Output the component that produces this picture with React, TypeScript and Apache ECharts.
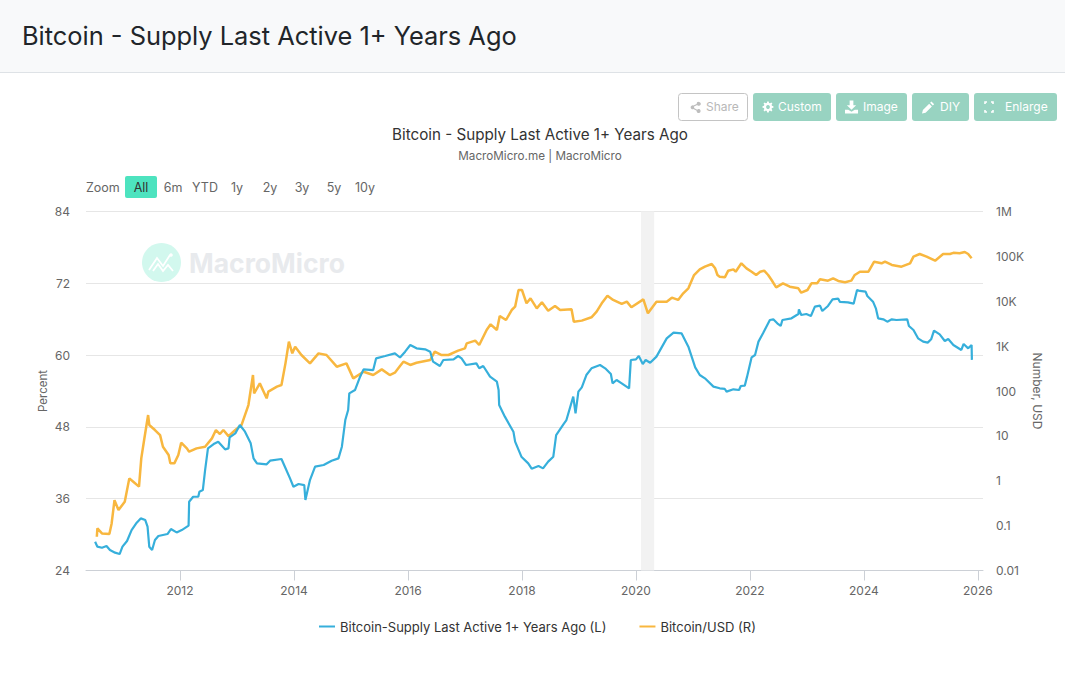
import React, { useEffect, useRef } from "react";
import * as echarts from "echarts";

const FONT = "Inter, 'Noto Sans', sans-serif";
const pageTitle = "Bitcoin - Supply Last Active 1+ Years Ago";
const subTitle = "MacroMicro.me | MacroMicro";
const supplyName = "Bitcoin-Supply Last Active 1+ Years Ago (L)";
const priceName = "Bitcoin/USD (R)";
const yearTicks = [2012, 2014, 2016, 2018, 2020, 2022, 2024, 2026];
const recession = [2020.09, 2020.32];
const zoomLabels = ["6m", "YTD", "1y", "2y", "3y", "5y", "10y"];

const supplyYears = [2010.51,2010.55,2010.63,2010.71,2010.77,2010.86,2010.94,2010.99,2011.07,2011.15,2011.24,2011.31,2011.39,2011.43,2011.46,2011.51,2011.56,2011.62,2011.78,2011.84,2011.94,2012.03,2012.15,2012.16,2012.23,2012.32,2012.34,2012.4,2012.44,2012.49,2012.59,2012.67,2012.79,2012.85,2012.87,2012.97,2013.05,2013.14,2013.24,2013.29,2013.35,2013.52,2013.58,2013.78,2013.84,2013.93,2013.99,2014.08,2014.18,2014.2,2014.28,2014.37,2014.52,2014.66,2014.78,2014.84,2014.9,2014.95,2014.97,2015.07,2015.16,2015.22,2015.39,2015.44,2015.6,2015.77,2015.86,2015.95,2016.04,2016.15,2016.3,2016.39,2016.44,2016.56,2016.62,2016.8,2016.88,2016.94,2017.02,2017.2,2017.25,2017.32,2017.44,2017.56,2017.59,2017.6,2017.7,2017.85,2017.88,2017.99,2018.11,2018.17,2018.29,2018.37,2018.46,2018.55,2018.6,2018.73,2018.78,2018.9,2018.94,2018.99,2019.05,2019.13,2019.22,2019.37,2019.46,2019.56,2019.59,2019.66,2019.75,2019.88,2019.91,2020,2020.05,2020.12,2020.17,2020.25,2020.36,2020.54,2020.66,2020.8,2020.92,2021.04,2021.12,2021.21,2021.36,2021.47,2021.56,2021.59,2021.71,2021.81,2021.84,2021.91,2021.95,2022.03,2022.09,2022.15,2022.23,2022.35,2022.41,2022.48,2022.54,2022.57,2022.73,2022.85,2022.86,2022.9,2022.99,2023.07,2023.14,2023.23,2023.27,2023.37,2023.45,2023.55,2023.58,2023.72,2023.82,2023.88,2023.93,2024.03,2024.06,2024.16,2024.21,2024.25,2024.34,2024.41,2024.49,2024.57,2024.76,2024.79,2024.87,2024.95,2025.04,2025.12,2025.18,2025.23,2025.33,2025.42,2025.48,2025.57,2025.71,2025.75,2025.83,2025.89,2025.895];
const supplyValues = [28.81,27.98,27.81,28.09,27.42,26.98,26.75,27.98,28.93,30.76,31.99,32.71,32.43,31.32,27.98,27.42,29.09,29.76,30.1,30.93,30.37,30.76,31.49,35.5,36.33,36.33,37.17,37.45,40.79,44.41,45.14,45.53,44.25,44.41,46.25,46.92,48.31,47.2,45.25,42.74,41.9,41.74,42.35,42.63,41.35,39.4,38,38.45,38.28,35.78,39.12,41.35,41.63,42.35,42.74,44.69,49.15,50.82,53.6,54.16,56.39,57.62,57.5,59.45,59.84,60.29,59.6,60.57,61.69,61.13,60.96,60.57,58.9,58.18,59.18,59.29,59.85,59.46,58.34,58.62,57.79,58.18,56.39,55.56,54.17,51.66,49.71,47.2,45.53,43.02,41.91,41.02,41.46,41.07,42.19,43.02,46.64,48.48,49.15,53.05,50.27,53.89,54.61,56.67,57.79,58.34,57.79,56.84,55.28,55.84,55.28,54.44,59.18,59.29,59.85,58.51,59.18,58.73,59.74,62.8,63.75,63.64,61.41,57.95,56.68,56.12,54.73,54.45,54.34,53.89,54.28,54.17,54.84,54.9,56.4,59.63,60.02,62.25,63.64,65.87,65.98,65.31,64.87,65.87,66.15,66.87,67.65,66.7,66.87,66.54,68.1,68.27,67.37,68.21,69.32,69.43,68.88,68.82,68.6,70.88,70.72,70.6,69.88,68.93,67.82,66.15,65.98,65.59,65.98,65.87,65.98,64.87,64.2,62.8,62.25,62.08,62.64,64.09,63.47,62.36,62.69,61.69,60.86,61.86,61.13,61.69,59.2];

const priceYears = [2010.54,2010.55,2010.63,2010.76,2010.8,2010.85,2010.92,2011.03,2011.11,2011.18,2011.28,2011.32,2011.37,2011.44,2011.46,2011.56,2011.65,2011.7,2011.8,2011.83,2011.9,2011.97,2012.02,2012.12,2012.16,2012.29,2012.44,2012.56,2012.63,2012.7,2012.76,2012.85,2012.97,2013.08,2013.2,2013.28,2013.3,2013.4,2013.52,2013.55,2013.7,2013.78,2013.85,2013.91,2013.97,2014.02,2014.13,2014.28,2014.43,2014.57,2014.75,2014.92,2015.04,2015.22,2015.39,2015.54,2015.68,2015.77,2015.86,2015.92,2016.04,2016.15,2016.39,2016.47,2016.59,2016.71,2016.88,2017,2017.03,2017.18,2017.25,2017.38,2017.45,2017.56,2017.61,2017.72,2017.82,2017.88,2017.94,2018,2018.08,2018.15,2018.26,2018.35,2018.46,2018.58,2018.67,2018.87,2018.91,2019.05,2019.22,2019.31,2019.4,2019.5,2019.6,2019.75,2019.84,2019.92,2020.13,2020.21,2020.36,2020.54,2020.63,2020.74,2020.83,2020.92,2021.02,2021.12,2021.21,2021.33,2021.39,2021.43,2021.47,2021.56,2021.62,2021.71,2021.75,2021.85,2021.94,2022.03,2022.11,2022.18,2022.25,2022.32,2022.38,2022.46,2022.58,2022.7,2022.85,2022.9,2023.01,2023.08,2023.18,2023.23,2023.37,2023.46,2023.55,2023.67,2023.78,2023.84,2023.93,2024.08,2024.18,2024.31,2024.37,2024.49,2024.66,2024.81,2024.87,2024.98,2025.1,2025.25,2025.39,2025.51,2025.57,2025.68,2025.77,2025.83,2025.89];
const priceValues = [0.0566,0.087,0.067,0.065,0.112,0.37,0.222,0.34,1.13,0.95,0.74,3.15,8.07,29.1,17.5,13.5,10.4,5.74,3.74,2.44,2.44,3.74,7.05,5.26,4.44,5.26,5.74,8.8,13.5,11,13.5,9.9,13.5,17.5,48.6,227,88,148,68.6,97,125,136,413,1256,690,973,634,413,690,634,348,413,191,269,227,303,227,256,360,450,380,427,491,753,634,634,792,893,1153,1324,1059,2290,3060,2290,4700,3820,6380,7580,17800,17800,9000,11600,6950,9500,6170,7830,6380,6600,3510,3700,4390,5860,9000,13300,10700,8690,9800,7330,11000,5380,9800,9800,12000,10700,15000,19400,38400,51400,59000,67600,54100,38500,35300,34100,48000,51400,45600,70000,54100,45600,38500,45600,48000,38500,29700,20400,25100,21100,19400,15500,17800,25100,25100,30800,28700,32400,28300,26400,28800,38500,45600,45600,76200,70000,76200,64300,59000,70000,98600,113000,98600,80200,113000,113000,120000,117000,125000,113000,90400];

const toPairs = (xs: number[], ys: number[]) => xs.map((x, i) => [x, ys[i]]);
const priceLabel = (v: number) => {
  const n = parseFloat(v.toPrecision(3));
  if (n >= 1e6) return n / 1e6 + "M";
  if (n >= 1e3) return n / 1e3 + "K";
  return String(n);
};

const ICONS: Record<string, string> = {
  mmShare: "M11 1a2.2 2.2 0 1 1-1.9 3.4L5.6 6.2a2.2 2.2 0 0 1 0 1.6l3.5 1.8a2.2 2.2 0 1 1-.6 1.2L4.9 9a2.2 2.2 0 1 1 0-4l3.6-1.8A2.2 2.2 0 0 1 11 1z",
  mmGear: "M6 0h2l.4 1.9 1.3.5L11.3 1.300l1.4 1.4-1.100 1.600.5 1.300L14 6v2l-1.900.4-.5 1.300 1.100 1.600-1.400 1.400-1.600-1.100-1.300.5L8 14H6l-.4-1.900-1.300-.5-1.600 1.100-1.400-1.400 1.100-1.600-.5-1.300L0 8V6l1.900-.4.5-1.300-1.100-1.600 1.400-1.400 1.600 1.100 1.300-.5z",
  mmDownload: "M5 0h4v5h3L7 10 2 5h3zM0 10h3.500L7 12l3.500-2H14v4H0z",
  mmPencil: "M10.500 0.500l3 3-1.500 1.500-3-3zM8 3l3 3-7 7-4 1 1-4z",
};
Object.entries(ICONS).forEach(([name, d]) => {
  echarts.graphic.registerShape(name, echarts.graphic.extendPath(d as any, {}) as any);
});

const BTN = "#98d3c1";
const buttons = [
  { label: "Custom", x: 753, w: 78, tx: 778 },
  { label: "Image", x: 836, w: 71, tx: 863 },
  { label: "DIY", x: 912, w: 57, tx: 940 },
  { label: "Enlarge", x: 974, w: 83, tx: 1005 },
];

function chromeGraphics(): any[] {
  const els: any[] = [
    { type: "rect", shape: { x: 0, y: 0, width: 1065, height: 72 }, style: { fill: "#f8f9fa" }, silent: true },
    { type: "line", shape: { x1: 0, y1: 72.5, x2: 1065, y2: 72.5 }, style: { stroke: "#dee2e6", lineWidth: 1 } },
    { type: "text", x: 22, y: 35, style: { text: pageTitle, font: `400 25.4px ${FONT}`, fill: "#212529", textAlign: "left", textVerticalAlign: "middle" } },
    { type: "rect", shape: { x: 678.5, y: 93.5, width: 69, height: 27, r: 3 }, style: { fill: "#fff", stroke: "#c4c4c4", lineWidth: 1 } },
    { type: "mmShare", x: 689, y: 101, scaleX: 0.9, scaleY: 0.9, style: { fill: "#bdbdbd" } },
    { type: "text", x: 706, y: 106.5, style: { text: "Share", font: `400 12px ${FONT}`, fill: "#b8b8b8", textVerticalAlign: "middle" } },
  ];
  buttons.forEach((b) => {
    els.push({ type: "rect", shape: { x: b.x, y: 93, width: b.w, height: 28, r: 3 }, style: { fill: BTN } });
    els.push({ type: "text", x: b.tx, y: 106.5, style: { text: b.label, font: `400 12px ${FONT}`, fill: "#fff", textVerticalAlign: "middle" } });
  });
  els.push({ type: "mmGear", x: 762.500, y: 101.500, scaleX: 0.78, scaleY: 0.78, style: { fill: "#fff" } });
  els.push({ type: "circle", shape: { cx: 768, cy: 107, r: 1.9 }, style: { fill: BTN } });
  els.push({ type: "mmDownload", x: 845, y: 100.500, scaleX: 0.93, scaleY: 0.93, style: { fill: "#fff" } });
  els.push({ type: "mmPencil", x: 922, y: 101, scaleX: 0.9, scaleY: 0.9, style: { fill: "#fff" } });
  const cs = { stroke: "#fff", lineWidth: 1.6, fill: "none" };
  [[[985, 104], [985, 102], [987, 102]], [[991, 102], [993, 102], [993, 104]], [[985, 110], [985, 112], [987, 112]], [[991, 112], [993, 112], [993, 110]]].forEach((pts) => {
    els.push({ type: "polyline", shape: { points: pts }, style: cs });
  });
  // range selector
  els.push({ type: "text", x: 86, y: 187.500, style: { text: "Zoom", font: `400 12.5px ${FONT}`, fill: "#666", textVerticalAlign: "middle" } });
  els.push({ type: "rect", shape: { x: 125, y: 176, width: 32, height: 22, r: 2 }, style: { fill: "#4de3bf" } });
  els.push({ type: "text", x: 141, y: 187.500, style: { text: "All", font: `400 12.5px ${FONT}`, fill: "#333", textAlign: "center", textVerticalAlign: "middle" } });
  const cx = [173, 205, 237, 270, 302, 334, 365];
  zoomLabels.forEach((t, i) => {
    els.push({ type: "text", x: cx[i], y: 187.500, style: { text: t, font: `400 12.5px ${FONT}`, fill: "#666", textAlign: "center", textVerticalAlign: "middle" } });
  });
  // watermark
  els.push({ type: "circle", shape: { cx: 161.500, cy: 262.500, r: 19.500 }, style: { fill: "#d2f8ee" } });
  els.push({ type: "polyline", shape: { points: [[149, 270], [157, 258], [163, 266], [170, 255]] }, style: { stroke: "#fff", lineWidth: 1.8, fill: "none" } });
  els.push({ type: "polyline", shape: { points: [[153, 271], [158, 264], [163, 271], [168, 265], [173, 271]] }, style: { stroke: "#fff", lineWidth: 1.8, fill: "none" } });
  els.push({ type: "circle", shape: { cx: 171, cy: 255, r: 1.800 }, style: { fill: "#fff" } });
  els.push({ type: "text", x: 189, y: 263, style: { text: "MacroMicro", font: `700 26.5px ${FONT}`, fill: "#e8eaed", textVerticalAlign: "middle" } });
  return els;
}

export default function App() {
  const ref = useRef<HTMLDivElement>(null);
  useEffect(() => {
    document.body.style.margin = "0";
    document.body.style.overflow = "hidden";
    const chart = echarts.init(ref.current!, undefined, { renderer: "svg" });
    chart.setOption({
      animation: false,
      backgroundColor: "#fff",
      textStyle: { fontFamily: FONT },
      title: {
        text: pageTitle,
        subtext: subTitle,
        left: 535,
        textAlign: "center",
        top: 122,
        itemGap: 8,
        textStyle: { fontSize: 15.2, fontWeight: 400, color: "#333", fontFamily: FONT },
        subtextStyle: { fontSize: 11.7, color: "#666", fontFamily: FONT },
      },
      graphic: { elements: chromeGraphics() },
      legend: {
        left: 314,
        top: 615,
        itemWidth: 16,
        itemHeight: 2,
        itemGap: 33,
        icon: "rect",
        textStyle: { fontSize: 13, color: "#333", fontFamily: FONT },
        data: [supplyName, priceName],
      },
      grid: { left: 86, right: 82, top: 211.5, bottom: 112.5 },
      xAxis: {
        type: "value",
        min: 2010.35,
        max: 2026.09,
        splitLine: { show: false },
        axisLine: { show: true, onZero: false, lineStyle: { color: "#ccd0d6" } },
        axisTick: { show: true, length: 10, customValues: yearTicks, lineStyle: { color: "#ccd0d6" } },
        axisLabel: { customValues: yearTicks, fontSize: 12, color: "#666", margin: 14, formatter: (v: number) => String(v) },
      },
      yAxis: [
        {
          type: "value",
          min: 24,
          max: 84,
          interval: 12,
          name: "Percent",
          nameLocation: "middle",
          nameGap: 37,
          nameMoveOverlap: false,
          nameTextStyle: { fontSize: 11.5, color: "#666" },
          axisLine: { show: false },
          axisTick: { show: false },
          axisLabel: { fontSize: 12, color: "#666", margin: 16 },
          splitLine: { lineStyle: { color: "#e6e6e6" } },
        },
        {
          type: "log",
          logBase: 10,
          min: 0.01,
          max: 1000000,
          position: "right",
          name: "Number, USD",
          nameLocation: "middle",
          nameGap: 48,
          nameMoveOverlap: false,
          nameRotate: -90,
          nameTextStyle: { fontSize: 12, color: "#666" },
          axisLine: { show: false },
          axisTick: { show: false },
          axisLabel: { fontSize: 12, color: "#666", margin: 13, formatter: priceLabel },
          splitLine: { show: false },
        },
      ],
      series: [
        {
          name: supplyName,
          type: "line",
          yAxisIndex: 0,
          showSymbol: false,
          data: toPairs(supplyYears, supplyValues),
          lineStyle: { color: "#36afdb", width: 2.2 },
          itemStyle: { color: "#36afdb" },
          z: 3,
          markArea: {
            silent: true,
            itemStyle: { color: "#f2f2f2" },
            data: [[{ xAxis: recession[0] }, { xAxis: recession[1] }]],
          },
        },
        {
          name: priceName,
          type: "line",
          yAxisIndex: 1,
          showSymbol: false,
          data: toPairs(priceYears, priceValues),
          lineStyle: { color: "#f8b73f", width: 2.5 },
          itemStyle: { color: "#f8b73f" },
          z: 2,
        },
      ],
    });
    return () => chart.dispose();
  }, []);
  return <div ref={ref} style={{ position: "absolute", left: 0, top: 0, width: 1065, height: 683 }} />;
}
